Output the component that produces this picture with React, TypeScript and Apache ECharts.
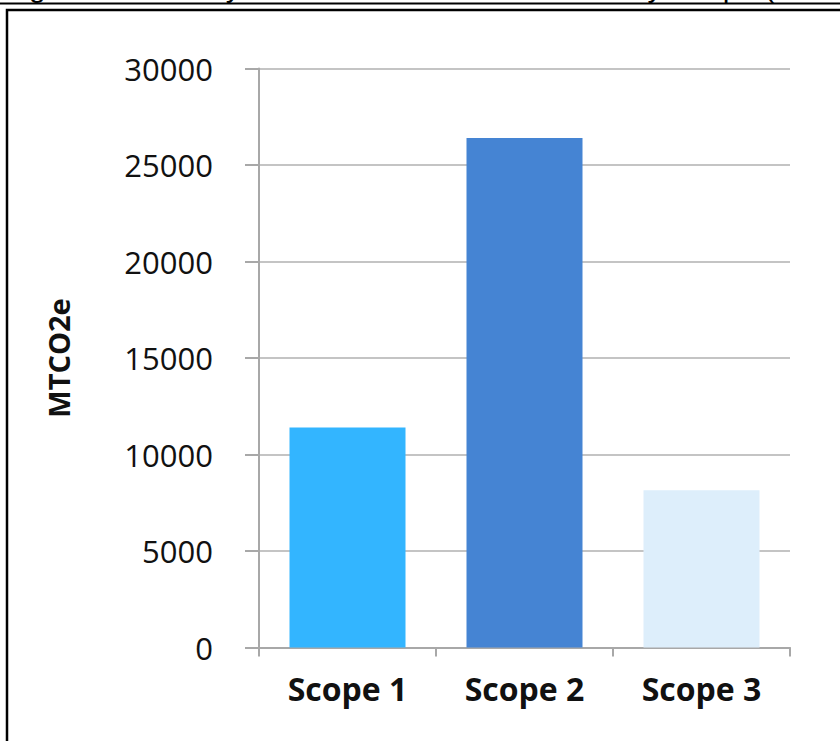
import React, { useEffect, useRef } from "react";
import * as echarts from "echarts";

const categories = ["Scope 1", "Scope 2", "Scope 3"];
const emissions = [11400, 26400, 8150];
const barColors = ["#33B5FF", "#4584D3", "#DDEEFB"];
const yTicks = { min: 0, max: 30000, interval: 5000 };
const titleText = "Figure 10: Facility Greenhouse Gas Emissions by Scope (MTCO2e)";
const yAxisName = "MTCO2e";

export default function App() {
  const ref = useRef<HTMLDivElement>(null);
  useEffect(() => {
    if (!ref.current) return;
    const chart = echarts.init(ref.current, null, { renderer: "svg" });
    chart.setOption({
      animation: false,
      backgroundColor: "#ffffff",
      grid: { left: 259, right: 50, top: 68.5, bottom: 93.5 },
      xAxis: {
        type: "category",
        data: categories,
        axisLine: { lineStyle: { color: "#A8A8A8", width: 2 } },
        axisTick: { show: true, length: 9, lineStyle: { color: "#A8A8A8", width: 2 } },
        axisLabel: {
          fontFamily: "Open Sans",
          fontWeight: "bold",
          fontSize: 32,
          color: "#111111",
          margin: 25,
        },
      },
      yAxis: {
        type: "value",
        min: yTicks.min,
        max: yTicks.max,
        interval: yTicks.interval,
        name: yAxisName,
        nameLocation: "middle",
        nameGap: 186,
        nameRotate: 90,
        nameTextStyle: {
          fontFamily: "Open Sans",
          fontWeight: "bold",
          fontSize: 29,
          color: "#111111",
        },
        axisLine: { show: true, lineStyle: { color: "#A8A8A8", width: 2 } },
        axisTick: { show: true, length: 14, lineStyle: { color: "#A8A8A8", width: 2 } },
        splitLine: { lineStyle: { color: "#C4C4C4", width: 2 } },
        axisLabel: {
          fontFamily: "Open Sans",
          fontSize: 31,
          color: "#111111",
          margin: 46,
          formatter: (v: number) => String(v),
        },
      },
      series: [
        {
          type: "bar",
          barWidth: 116,
          data: emissions.map((v, i) => ({ value: v, itemStyle: { color: barColors[i] } })),
        },
      ],
      graphic: [
        {
          type: "text",
          x: 4,
          y: -13.5,
          silent: true,
          style: {
            text: titleText,
            font: "30px 'Liberation Sans'",
            fill: "#000000",
            verticalAlign: "middle",
            align: "left",
          },
        },
        {
          type: "line",
          silent: true,
          shape: { x1: 0, y1: 3.5, x2: 840, y2: 3.5 },
          style: { stroke: "#000000", lineWidth: 2 },
        },
        {
          type: "polyline",
          silent: true,
          shape: { points: [[7, 741], [7, 10], [840, 10]] },
          style: { stroke: "#000000", lineWidth: 2.5, fill: "none" },
        },
      ],
    });
    return () => chart.dispose();
  }, []);
  return (
    <div
      ref={ref}
      style={{ position: "fixed", left: 0, top: 0, width: 840, height: 741 }}
    />
  );
}
